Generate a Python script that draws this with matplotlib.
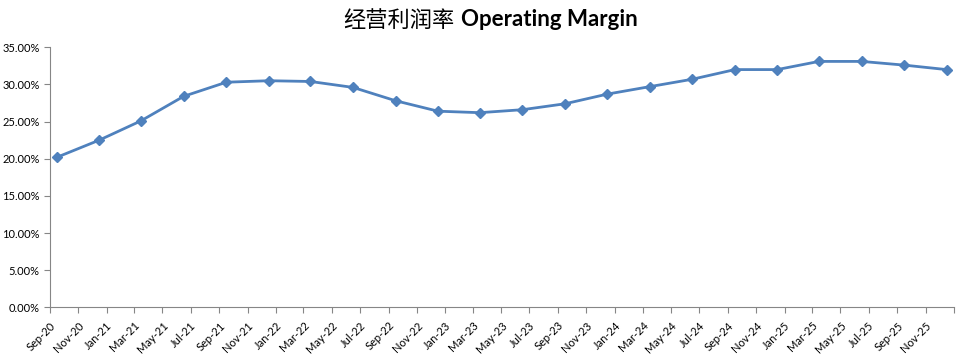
import datetime as dt
import matplotlib
matplotlib.use("Agg")
import matplotlib.pyplot as plt
from matplotlib.ticker import FuncFormatter

# quarterly operating margin (%), Sep-20 .. Dec-25
months = ["2020-09", "2020-12", "2021-03", "2021-06", "2021-09", "2021-12",
          "2022-03", "2022-06", "2022-09", "2022-12", "2023-03", "2023-06",
          "2023-09", "2023-12", "2024-03", "2024-06", "2024-09", "2024-12",
          "2025-03", "2025-06", "2025-09", "2025-12"]
margin = [20.2, 22.5, 25.1, 28.4, 30.3, 30.5, 30.4, 29.6, 27.8, 26.4, 26.2, 26.6,
          27.4, 28.7, 29.7, 30.7, 32.0, 32.0, 33.1, 33.1, 32.6, 32.0]

dates = [dt.datetime.strptime(m + "-16", "%Y-%m-%d") for m in months]

fig = plt.figure(figsize=(9.77, 3.55), dpi=100)
ax = fig.add_axes([50 / 977, 47.7 / 355, 904 / 977, 260 / 355])

ax.plot(dates, margin, color="#4F81BD", linewidth=2, marker="D", markersize=5.5)

ax.set_ylim(0, 35)
ax.set_yticks(range(0, 36, 5))
ax.yaxis.set_major_formatter(FuncFormatter(lambda v, p: f"{v:.2f}%"))

ax.set_xlim(dt.datetime(2020, 9, 1), dt.datetime(2026, 1, 1))
ticks = [dt.datetime(2020 + (8 + i) // 12, (8 + i) % 12 + 1, 1) for i in range(0, 65, 2)]
ax.set_xticks(ticks)
labels = [t.strftime("%b-%y") for t in ticks]
labels[-1] = ""
ax.set_xticklabels(labels, rotation=45, ha="right", rotation_mode="anchor")

for s in ["top", "right"]:
    ax.spines[s].set_visible(False)
for s in ["left", "bottom"]:
    ax.spines[s].set_color("#868686")
ax.tick_params(axis="both", colors="#868686", labelcolor="black", labelsize=8,
               length=4, direction="out")
ax.tick_params(axis="x", pad=5)
for lbl in ax.get_xticklabels() + ax.get_yticklabels():
    lbl.set_family("Lato")

fig.text(455 / 977, 1 - 20 / 355, "经营利润率", ha="right", va="center",
         fontsize=16, family=["Noto Sans CJK SC", "DejaVu Sans"])
fig.text(461 / 977, 1 - 20 / 355, "Operating Margin", ha="left", va="center",
         fontsize=16, fontweight="bold", family="Lato")

fig.savefig("out.png", dpi=100)
